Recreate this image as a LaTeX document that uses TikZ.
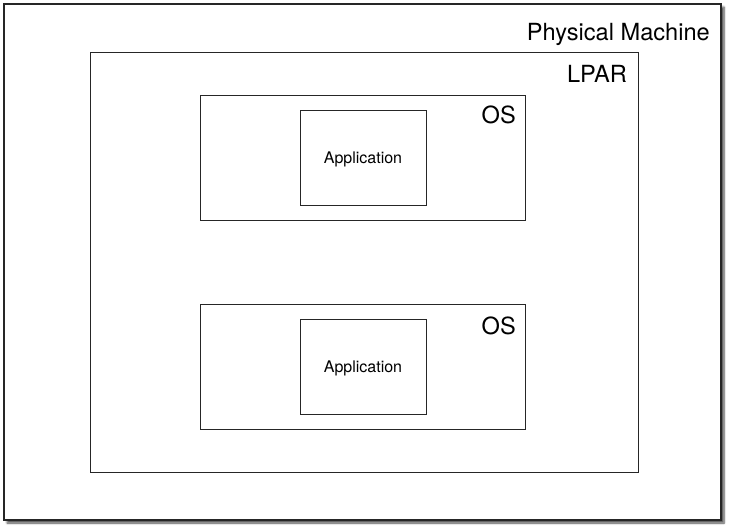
\documentclass[tikz,border=0pt]{standalone}
\usepackage{fontspec}
\setmainfont{TeX Gyre Heros}
\usetikzlibrary{positioning,shadows.blur}
\tikzset{
  machinebox/.style={draw=black!85,line width=1.2pt,fill=white,inner sep=0pt,
    blur shadow={shadow xshift=3pt,shadow yshift=-3pt,shadow blur steps=6,shadow blur radius=2pt,shadow opacity=70}},
  lparbox/.style={draw=black!85,line width=0.9pt,inner sep=0pt},
  osbox/.style={draw=black!85,line width=0.9pt,inner sep=0pt,minimum width=325pt,minimum height=125pt},
  appbox/.style={draw=black!85,line width=0.9pt,inner sep=0pt,minimum width=126pt,minimum height=95pt,
    text depth=0pt,font=\fontsize{16}{19}\selectfont},
  boxlabel/.style={anchor=base east,inner sep=0pt,font=\fontsize{23.6}{27}\selectfont}
}
\begin{document}
\begin{tikzpicture}[x=1pt,y=-1pt]
  \useasboundingbox (0,0) rectangle (730,528);
  \node[machinebox,minimum width=717pt,minimum height=516pt] (machine) at (362.5,262) {};
  \node[lparbox,minimum width=548pt,minimum height=420pt] (lpar) at (364,262) {};
  % operating systems with their applications
  \node[osbox] (os1) at (362.5,157.5) {};
  \node[appbox] (app1) at (363,157.5) {Application};
  \node[osbox] (os2) at (362.5,367) {};
  \node[appbox] (app2) at (363,367) {Application};
  % labels in the upper right corners
  \node[boxlabel] (machinelbl) at (710,40) {Physical Machine};
  \node[boxlabel] (lparlbl) at (627,82) {LPAR};
  \node[boxlabel] (os1lbl) at (516,123) {OS};
  \node[boxlabel] (os2lbl) at (516,334) {OS};
\end{tikzpicture}
\end{document}
